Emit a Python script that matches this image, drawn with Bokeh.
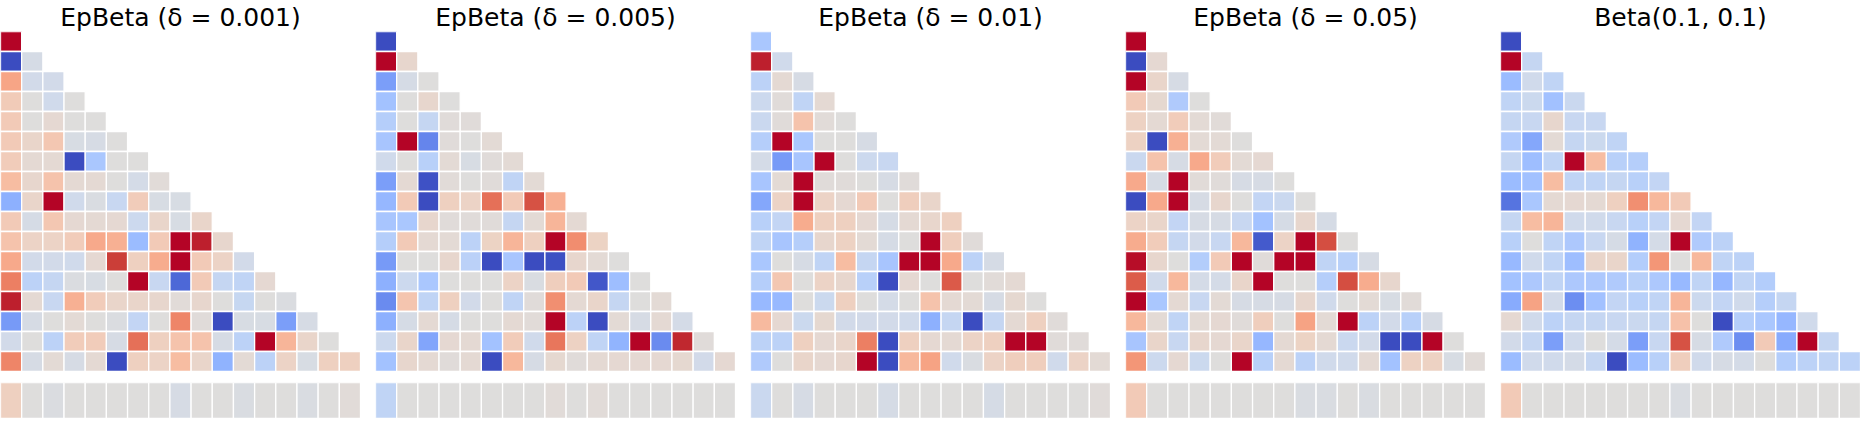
import numpy as np
from bokeh.plotting import figure
from bokeh.layouts import row, column
from bokeh.models import ColumnDataSource, LinearColorMapper, Range1d
from bokeh.embed import file_html
from bokeh.resources import INLINE

titles = ["EpBeta (δ = 0.001)", "EpBeta (δ = 0.005)", "EpBeta (δ = 0.01)",
          "EpBeta (δ = 0.05)", "Beta(0.1, 0.1)"]

tri_1 = [
    [1.0],
    [-1.0, -0.06],
    [0.44, -0.08, -0.08],
    [0.19, 0.0, -0.1, 0.0],
    [0.2, 0.0, 0.06, 0.0, 0.0],
    [0.2, 0.1, 0.22, -0.04, -0.05, 0.0],
    [0.18, 0.05, 0.05, -1.0, -0.33, 0.0, 0.0],
    [0.3, 0.08, 0.25, 0.05, 0.05, 0.0, -0.07, 0.03],
    [-0.5, 0.1, 1.0, -0.1, -0.03, -0.15, 0.18, -0.04, -0.04],
    [0.2, -0.06, 0.22, 0.06, 0.05, 0.06, -0.12, 0.1, -0.04, 0.1],
    [0.25, 0.12, 0.12, 0.18, 0.42, 0.38, -0.42, 0.2, 1.0, 0.95, 0.08],
    [0.42, -0.08, -0.08, -0.1, 0.06, 0.87, 0.15, 0.4, 1.0, 0.2, 0.12, -0.08],
    [0.62, -0.22, -0.17, -0.02, -0.04, 0.0, 1.0, -0.15, -0.87, 0.2, -0.17, -0.2, 0.06],
    [0.95, 0.05, -0.15, 0.38, 0.18, 0.1, 0.1, 0.08, 0.03, 0.08, 0.0, -0.16, 0.0, -0.02],
    [-0.62, -0.05, 0.0, 0.04, 0.0, -0.02, -0.18, 0.0, 0.6, 0.02, -1.0, -0.04, -0.04, -0.6, -0.05],
    [-0.08, 0.0, -0.22, 0.18, 0.18, -0.05, 0.68, 0.15, 0.25, 0.25, -0.05, -0.22, 1.0, 0.35, 0.1, 0.0],
    [0.6, -0.05, 0.04, -0.05, 0.05, -1.0, 0.15, 0.12, 0.3, 0.1, -0.48, 0.04, -0.22, 0.12, -0.04, 0.15, 0.15],
]
bottom_1 = [0.15, 0.0, -0.02, 0.0, 0.0, 0.0, 0.0, 0.0, -0.05, 0.0, 0.0, -0.03, 0.0, 0.0, -0.03, 0.0, 0.03]

tri_2 = [
    [-1.0],
    [1.0, 0.08],
    [-0.6, -0.06, 0.0],
    [-0.37, 0.0, 0.08, 0.0],
    [-0.27, 0.0, -0.17, 0.02, 0.02],
    [-0.35, 1.0, -0.73, 0.02, 0.0, 0.04],
    [-0.1, 0.0, -0.25, 0.04, -0.04, 0.02, 0.04],
    [-0.6, 0.05, -0.97, 0.03, 0.0, 0.02, -0.2, 0.04],
    [-0.45, 0.2, -1.0, 0.15, 0.12, 0.68, 0.2, 0.8, 0.38],
    [-0.35, -0.33, 0.08, 0.02, 0.02, 0.02, -0.17, 0.04, 0.35, 0.05],
    [-0.27, 0.2, 0.05, 0.04, -0.22, 0.13, 0.35, 0.15, 1.0, 0.56, 0.13],
    [-0.62, 0.0, 0.0, 0.08, -0.23, -1.0, -0.35, -1.0, -0.98, 0.08, 0.04, 0.0],
    [-0.5, -0.12, -0.33, 0.0, 0.0, 0.0, 0.12, -0.03, 0.17, 0.2, -0.95, -0.4, 0.0],
    [-0.7, 0.24, -0.2, 0.15, -0.08, 0.0, -0.2, 0.02, 0.55, 0.05, 0.1, -0.17, 0.0, 0.04],
    [-0.5, -0.06, 0.05, -0.06, 0.0, 0.0, 0.05, 0.03, 1.0, -0.22, -1.0, 0.04, -0.05, 0.05, -0.07],
    [-0.12, 0.1, -0.56, 0.06, 0.05, -0.37, 0.18, -0.1, 0.66, 0.14, -0.2, -0.47, 1.0, -0.7, 0.93, 0.02],
    [-0.37, 0.08, 0.05, 0.02, 0.05, -1.0, 0.33, -0.05, 0.07, 0.02, 0.05, 0.06, 0.06, 0.06, 0.07, -0.08, 0.06],
]
bottom_2 = [-0.2, 0.0, 0.0, 0.0, 0.0, 0.0, 0.0, 0.0, 0.03, 0.0, 0.03, 0.0, 0.0, 0.0, 0.0, 0.0, 0.0]

tri_3 = [
    [-0.33],
    [0.95, -0.1],
    [-0.22, 0.05, -0.05],
    [-0.12, 0.02, -0.2, 0.05],
    [-0.14, 0.02, 0.25, 0.03, 0.0],
    [-0.27, 1.0, -0.33, 0.0, 0.0, -0.05],
    [-0.07, -0.62, -0.35, 1.0, 0.0, -0.12, -0.15],
    [-0.35, 0.04, 1.0, 0.02, 0.02, 0.0, -0.05, 0.02],
    [-0.55, 0.12, 1.0, 0.12, 0.06, 0.2, 0.0, 0.17, 0.1],
    [-0.25, -0.18, 0.4, 0.15, 0.15, 0.06, -0.06, 0.05, 0.09, 0.15],
    [-0.2, -0.35, -0.27, 0.08, 0.14, 0.04, -0.06, 0.0, 1.0, 0.17, 0.02],
    [-0.33, 0.0, -0.05, -0.2, 0.3, -0.17, -0.35, 1.0, 1.0, 0.42, -0.22, -0.06],
    [-0.27, 0.22, 0.0, 0.12, 0.08, -0.25, -1.0, 0.06, 0.0, 0.77, 0.0, 0.03, 0.05],
    [-0.43, -0.43, 0.0, -0.13, 0.15, 0.0, -0.07, 0.0, 0.25, 0.05, 0.04, -0.05, 0.07, 0.0],
    [0.32, 0.06, -0.13, 0.07, -0.08, -0.08, -0.08, -0.1, -0.5, -0.17, -1.0, -0.17, 0.05, 0.15, 0.02],
    [-0.22, -0.22, 0.15, 0.06, 0.1, 0.62, -1.0, 0.15, 0.06, 0.05, 0.12, 0.15, 1.0, 1.0, 0.02, 0.02],
    [-0.3, 0.0, 0.1, 0.06, 0.08, 1.0, -1.0, 0.33, 0.45, -0.1, -0.03, 0.12, 0.17, 0.17, -0.1, 0.12, 0.04],
]
bottom_3 = [-0.14, 0.0, -0.05, 0.0, 0.0, 0.0, -0.06, 0.0, 0.0, 0.0, 0.0, -0.06, 0.0, 0.0, 0.0, 0.0, 0.02]

tri_4 = [
    [1.0],
    [-1.0, 0.06],
    [1.0, 0.1, -0.05],
    [0.2, 0.07, -0.3, 0.0],
    [0.14, 0.05, 0.18, 0.04, 0.03],
    [0.14, -1.0, 0.38, 0.04, 0.04, 0.0],
    [-0.14, 0.25, -0.05, 0.42, 0.18, 0.04, 0.06],
    [0.42, -0.05, 1.0, 0.03, 0.02, -0.05, -0.05, 0.0],
    [-1.0, 0.42, 1.0, -0.05, 0.08, 0.0, -0.18, -0.14, 0.0],
    [0.12, 0.1, -0.18, -0.05, -0.05, -0.15, -0.37, -0.06, 0.08, -0.06],
    [0.4, 0.18, -0.17, -0.08, -0.15, 0.33, -0.93, 0.12, 1.0, 0.82, 0.0],
    [0.98, 0.08, 0.0, -0.28, 0.2, 1.0, 0.02, 1.0, 1.0, -0.2, -0.25, -0.05],
    [0.76, -0.1, 0.33, -0.07, -0.07, 0.1, 1.0, 0.0, 0.0, -0.27, 0.82, 0.4, 0.08],
    [1.0, -0.33, 0.05, -0.15, 0.04, -0.05, -0.05, -0.05, 0.08, -0.1, 0.0, 0.04, -0.04, 0.03],
    [0.33, 0.04, -0.2, 0.04, 0.06, 0.02, 0.17, 0.0, 0.45, 0.04, 1.0, -0.22, -0.08, -0.25, -0.05],
    [-0.35, 0.1, -0.15, 0.08, 0.06, 0.1, -0.45, 0.05, 0.13, 0.05, -0.14, -0.08, -1.0, -1.0, 1.0, 0.0],
    [0.52, -0.12, 0.06, -0.13, 0.0, 1.0, -0.25, 0.05, -0.22, -0.1, -0.1, 0.05, -0.37, 0.14, 0.14, -0.04, 0.03],
]
bottom_4 = [0.2, 0.0, 0.0, 0.0, 0.0, 0.0, 0.0, 0.0, -0.03, -0.03, 0.0, -0.03, 0.0, 0.0, 0.0, 0.0, 0.0]

tri_5 = [
    [-1.0],
    [1.0, -0.17],
    [-0.42, -0.1, -0.2],
    [-0.2, -0.13, -0.38, -0.14],
    [-0.17, -0.15, 0.08, -0.15, -0.15],
    [-0.3, -0.55, 0.04, -0.17, -0.13, -0.2],
    [-0.17, -0.4, -0.2, 1.0, 0.3, -0.25, -0.27],
    [-0.42, -0.38, 0.3, -0.2, -0.2, -0.17, -0.25, -0.18],
    [-0.82, -0.33, 0.05, 0.06, 0.05, 0.15, 0.55, 0.33, 0.2],
    [-0.17, 0.3, 0.35, -0.1, -0.1, -0.15, -0.25, -0.18, 0.06, -0.18],
    [-0.25, 0.0, -0.2, -0.32, -0.15, -0.06, -0.48, -0.07, 1.0, -0.3, -0.22],
    [-0.43, -0.1, -0.2, -0.4, 0.1, 0.1, -0.28, 0.52, 0.0, 0.33, -0.2, -0.22],
    [-0.37, -0.32, -0.2, -0.32, -0.32, -0.3, -0.25, -0.32, -0.43, -0.2, -0.45, -0.2, -0.28],
    [-0.53, 0.45, -0.08, -0.68, -0.38, -0.18, -0.25, -0.2, 0.35, -0.12, -0.18, -0.1, -0.27, -0.17],
    [0.06, -0.1, -0.22, -0.17, -0.17, -0.15, -0.14, -0.17, 0.27, 0.0, -1.0, -0.27, -0.33, -0.45, -0.1],
    [-0.08, -0.17, -0.6, -0.1, 0.0, -0.07, -0.6, -0.15, 0.8, -0.05, -0.3, -0.68, 0.2, -0.53, 1.0, -0.17],
    [-0.42, -0.1, -0.1, -0.07, -0.17, -1.0, -0.42, -0.25, 0.17, -0.1, -0.05, -0.07, 0.0, -0.28, -0.22, -0.2, -0.22],
]
bottom_5 = [0.2, 0.0, 0.0, 0.0, 0.0, 0.0, 0.0, 0.0, -0.03, 0.0, 0.0, 0.0, 0.0, 0.0, 0.0, 0.0, 0.0]

triangles = [tri_1, tri_2, tri_3, tri_4, tri_5]
bottoms = [bottom_1, bottom_2, bottom_3, bottom_4, bottom_5]

# coolwarm (Moreland) colour table
_cw = np.array([
    [59, 76, 192], [68, 90, 204], [77, 104, 215], [87, 117, 225], [98, 130, 234],
    [108, 142, 241], [119, 154, 247], [130, 165, 251], [141, 176, 254], [152, 185, 255],
    [163, 194, 255], [174, 201, 253], [184, 208, 249], [194, 213, 244], [204, 217, 238],
    [213, 219, 230], [221, 221, 221], [229, 216, 209], [236, 211, 197], [241, 204, 185],
    [245, 196, 173], [247, 187, 160], [247, 177, 148], [247, 166, 135], [244, 154, 123],
    [241, 141, 111], [236, 127, 99], [229, 112, 88], [222, 96, 77], [213, 80, 66],
    [203, 62, 56], [192, 40, 47], [180, 4, 38]], dtype=float)
_pos = np.linspace(0, 1, len(_cw))
_t = np.linspace(0, 1, 256)
palette = ["#%02x%02x%02x" % tuple(int(round(np.interp(t, _pos, _cw[:, k]))) for k in range(3)) for t in _t]
mapper = LinearColorMapper(palette=palette, low=-1.0, high=1.0)

N = 17
cols = []
for title, tri, bot in zip(titles, triangles, bottoms):
    xs, ys, vs = [], [], []
    for i, r in enumerate(tri):
        for j, v in enumerate(r):
            xs.append(j); ys.append(i); vs.append(v)
    src = ColumnDataSource(dict(x=xs, y=ys, v=vs))
    p = figure(frame_width=360, frame_height=340, output_backend="svg", toolbar_location=None,
               x_range=Range1d(-0.5, N - 0.5), y_range=Range1d(N - 0.5, -0.5),
               min_border=0, title=title)
    p.title.text_font = "DejaVu Sans"
    p.title.text_font_size = "25px"
    p.title.text_font_style = "normal"
    p.title.text_color = "black"
    p.title.align = "center"
    p.title.standoff = 0
    p.title.offset = 0
    p.rect(x="x", y="y", width=1, height=1, source=src,
           fill_color={"field": "v", "transform": mapper}, line_color="white", line_width=1.3)
    p.axis.visible = False
    p.grid.visible = False
    p.outline_line_color = None

    bsrc = ColumnDataSource(dict(x=list(range(N)), y=[0] * N, v=bot))
    b = figure(frame_width=360, frame_height=36, output_backend="svg", toolbar_location=None,
               x_range=Range1d(-0.5, N - 0.5), y_range=Range1d(-0.5, 0.5), min_border=0)
    b.rect(x="x", y="y", width=1, height=1, source=bsrc,
           fill_color={"field": "v", "transform": mapper}, line_color="white", line_width=1.3)
    b.axis.visible = False
    b.grid.visible = False
    b.outline_line_color = None
    cols.append(column(p, b, spacing=11))

layout = row(cols, spacing=15)
open("out.html", "w").write(file_html(layout, INLINE))
